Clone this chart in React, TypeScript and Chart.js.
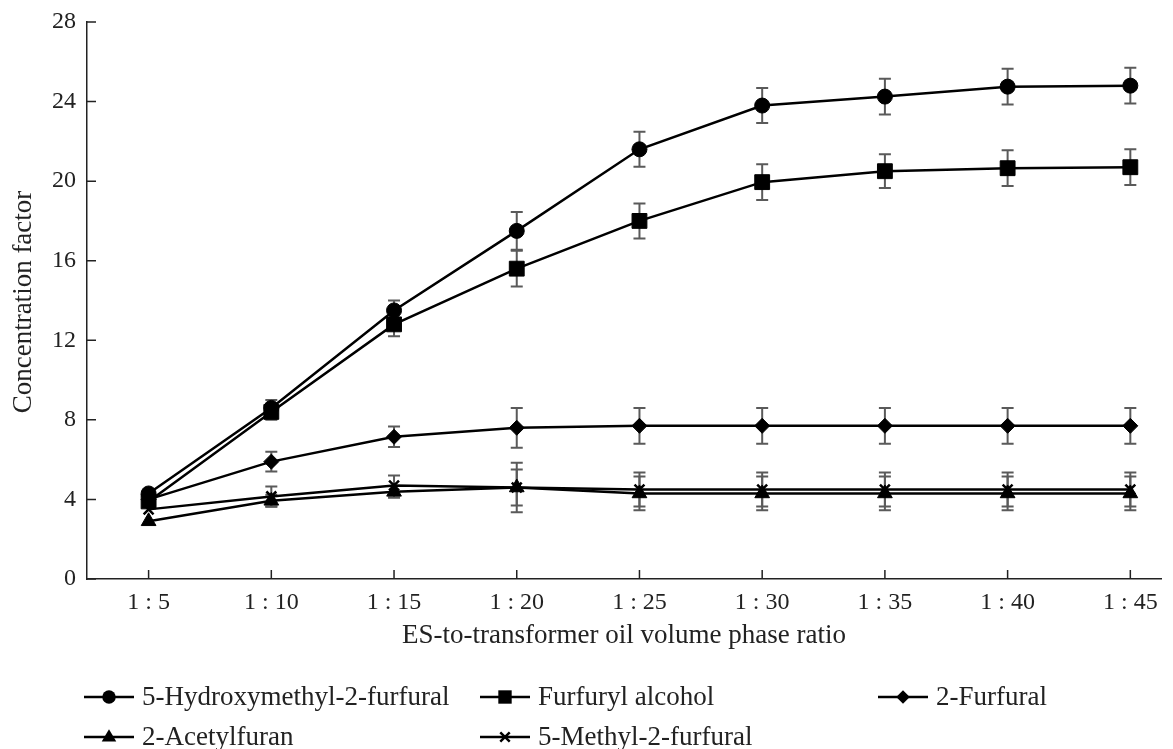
import React, { useEffect, useRef } from "react";
import { Chart, registerables } from "chart.js";

Chart.register(...registerables);

const ratios = [5, 10, 15, 20, 25, 30, 35, 40, 45];
const yTicks = [0, 4, 8, 12, 16, 20, 24, 28];

const seriesNames = [
  "5-Hydroxymethyl-2-furfural",
  "Furfuryl alcohol",
  "2-Furfural",
  "2-Acetylfuran",
  "5-Methyl-2-furfural",
];

const hmf = [4.3, 8.6, 13.5, 17.5, 21.6, 23.8, 24.25, 24.75, 24.8];
const furfurylAlcohol = [3.9, 8.4, 12.8, 15.6, 18.0, 19.95, 20.5, 20.65, 20.7];
const furfural = [4.0, 5.9, 7.15, 7.6, 7.7, 7.7, 7.7, 7.7, 7.7];
const acetylfuran = [2.9, 3.93, 4.38, 4.6, 4.3, 4.3, 4.3, 4.3, 4.3];
const methylFurfural = [3.5, 4.15, 4.7, 4.6, 4.5, 4.5, 4.5, 4.5, 4.5];

const hmfErr = [0, 0.4, 0.5, 0.95, 0.88, 0.88, 0.9, 0.9, 0.9];
const furfurylAlcoholErr = [0, 0.4, 0.6, 0.9, 0.88, 0.9, 0.85, 0.9, 0.9];
const furfuralErr = [0, 0.5, 0.52, 1.0, 0.9, 0.9, 0.9, 0.9, 0.9];
const acetylfuranErr = [0, 0.3, 0.3, 0.9, 0.85, 0.85, 0.85, 0.85, 0.85];
const methylFurfuralErr = [0, 0.5, 0.5, 1.25, 0.85, 0.85, 0.85, 0.85, 0.85];

const xTitle = "ES-to-transformer oil volume phase ratio";
const yTitle = "Concentration factor";

const FONT = '"Liberation Serif", "Times New Roman", serif';

const values = [hmf, furfurylAlcohol, furfural, acetylfuran, methylFurfural];
const errors = [hmfErr, furfurylAlcoholErr, furfuralErr, acetylfuranErr, methylFurfuralErr];
const pointStyles = ["circle", "rect", "rectRot", "triangle", "crossRot"];
const pointRadii = [7.5, 10.5, 7.5, 8.5, 7];

function drawMarker(ctx: any, style: string, r: number, x: number, y: number) {
  ctx.beginPath();
  if (style === "circle") {
    ctx.arc(x, y, r, 0, Math.PI * 2);
    ctx.fill();
  } else if (style === "rect") {
    const s = r * Math.SQRT1_2;
    ctx.fillRect(x - s, y - s, 2 * s, 2 * s);
  } else if (style === "rectRot") {
    ctx.moveTo(x, y - r);
    ctx.lineTo(x + r, y);
    ctx.lineTo(x, y + r);
    ctx.lineTo(x - r, y);
    ctx.closePath();
    ctx.fill();
  } else if (style === "triangle") {
    ctx.moveTo(x, y - r);
    ctx.lineTo(x + r * 0.95, y + r * 0.6);
    ctx.lineTo(x - r * 0.95, y + r * 0.6);
    ctx.closePath();
    ctx.fill();
  } else if (style === "crossRot") {
    const d = r * 0.75;
    ctx.moveTo(x - d, y - d);
    ctx.lineTo(x + d, y + d);
    ctx.moveTo(x + d, y - d);
    ctx.lineTo(x - d, y + d);
    ctx.stroke();
  }
}

const errorBarPlugin = {
  id: "errorBars",
  beforeDatasetsDraw(chart: any) {
    const { ctx } = chart;
    const xs = chart.scales.x;
    const ys = chart.scales.y;
    ctx.save();
    ctx.strokeStyle = "#5a5a5a";
    ctx.lineWidth = 2;
    chart.data.datasets.forEach((ds: any) => {
      const errs = ds.errors as number[];
      ds.data.forEach((p: any, i: number) => {
        const e = errs[i];
        if (!e) return;
        const px = xs.getPixelForValue(p.x);
        const top = ys.getPixelForValue(p.y + e);
        const bot = ys.getPixelForValue(p.y - e);
        ctx.beginPath();
        ctx.moveTo(px, top);
        ctx.lineTo(px, bot);
        ctx.moveTo(px - 6, top);
        ctx.lineTo(px + 6, top);
        ctx.moveTo(px - 6, bot);
        ctx.lineTo(px + 6, bot);
        ctx.stroke();
      });
    });
    ctx.restore();
  },
};

const decorPlugin = {
  id: "decor",
  afterDraw(chart: any) {
    const { ctx, chartArea } = chart;
    const xs = chart.scales.x;
    const ys = chart.scales.y;
    ctx.save();
    ctx.strokeStyle = "#222";
    ctx.lineWidth = 1.5;
    ctx.beginPath();
    xs.ticks.forEach((t: any) => {
      const px = xs.getPixelForValue(t.value);
      ctx.moveTo(px, chartArea.bottom);
      ctx.lineTo(px, chartArea.bottom - 9);
    });
    ys.ticks.forEach((t: any) => {
      const py = ys.getPixelForValue(t.value);
      ctx.moveTo(chartArea.left, py);
      ctx.lineTo(chartArea.left + 9, py);
    });
    ctx.stroke();

    ctx.fillStyle = "#222";
    ctx.font = `27px ${FONT}`;
    ctx.textAlign = "center";
    ctx.textBaseline = "middle";
    ctx.fillText(xTitle, 624, 636);
    ctx.save();
    ctx.translate(24, 302);
    ctx.rotate(-Math.PI / 2);
    ctx.fillText(yTitle, 0, 0);
    ctx.restore();

    const cols = [84, 480, 878];
    const rows = [697, 737];
    ctx.textAlign = "left";
    chart.data.datasets.forEach((ds: any, i: number) => {
      const x0 = cols[i % 3];
      const y0 = rows[Math.floor(i / 3)];
      ctx.strokeStyle = "#000";
      ctx.lineWidth = 2.5;
      ctx.beginPath();
      ctx.moveTo(x0, y0);
      ctx.lineTo(x0 + 50, y0);
      ctx.stroke();
      ctx.fillStyle = "#000";
      ctx.lineWidth = 2.5;
      drawMarker(ctx, ds.pointStyle, ds.pointRadius * 0.9, x0 + 25, y0);
      ctx.fillStyle = "#222";
      ctx.fillText(ds.label, x0 + 58, y0 + 1);
    });
    ctx.restore();
  },
};

export default function App() {
  const ref = useRef<HTMLCanvasElement | null>(null);

  useEffect(() => {
    if (!ref.current) return;
    const datasets = seriesNames.map((name, si) => ({
      label: name,
      data: ratios.map((r, i) => ({ x: r, y: values[si][i] })),
      errors: errors[si],
      borderColor: "#000",
      backgroundColor: "#000",
      borderWidth: 2.5,
      pointStyle: pointStyles[si],
      pointRadius: pointRadii[si],
      pointBorderWidth: si === 4 ? 2.5 : 1,
      pointBackgroundColor: "#000",
      pointBorderColor: "#000",
      tension: 0,
      fill: false,
    }));

    const chart = new Chart(ref.current, {
      type: "line",
      data: { datasets } as any,
      options: {
        animation: false,
        responsive: false,
        maintainAspectRatio: false,
        layout: { padding: { left: 0, top: 22, right: 3, bottom: 0 } },
        plugins: { legend: { display: false }, tooltip: { enabled: false } },
        scales: {
          x: {
            type: "linear",
            min: 2.49,
            max: 46.27,
            afterFit(s: any) {
              s.height = 170;
              s.paddingLeft = 0;
              s.paddingRight = 0;
            },
            afterBuildTicks(s: any) {
              s.ticks = ratios.map((v) => ({ value: v }));
            },
            grid: { color: "rgba(0,0,0,0)", drawTicks: false, drawOnChartArea: false },
            border: { display: true, color: "#222", width: 1.5 },
            ticks: {
              padding: 9,
              color: "#222",
              font: { family: FONT, size: 24 },
              maxRotation: 0,
              autoSkip: false,
              callback: (v: any) => `1 : ${v}`,
            },
          },
          y: {
            type: "linear",
            min: 0,
            max: 28,
            afterFit(s: any) {
              s.width = 87;
              s.paddingTop = 0;
              s.paddingBottom = 0;
            },
            afterBuildTicks(s: any) {
              s.ticks = yTicks.map((v) => ({ value: v }));
            },
            grid: { color: "rgba(0,0,0,0)", drawTicks: false, drawOnChartArea: false },
            border: { display: true, color: "#222", width: 1.5 },
            ticks: {
              padding: 11,
              color: "#222",
              font: { family: FONT, size: 24 },
              callback: (v: any) => `${v}`,
            },
          },
        },
      } as any,
      plugins: [errorBarPlugin, decorPlugin],
    });
    return () => chart.destroy();
  }, []);

  return (
    <div style={{ position: "absolute", left: 0, top: 0, width: 1173, height: 749, background: "#fff" }}>
      <canvas ref={ref} width={1173} height={749} />
    </div>
  );
}
